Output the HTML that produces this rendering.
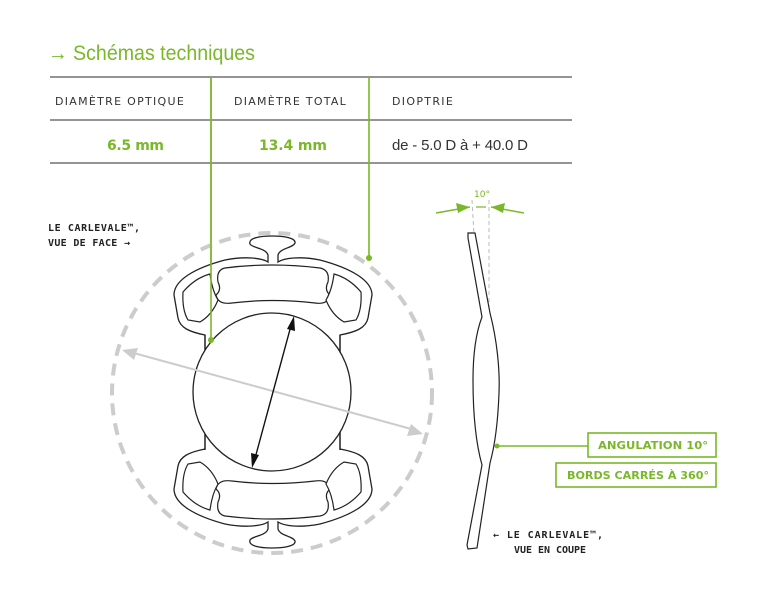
<!DOCTYPE html>
<html><head><meta charset="utf-8"><style>
body{margin:0;background:#fff;width:758px;height:597px;overflow:hidden;font-family:"Liberation Sans","DejaVu Sans",sans-serif}
</style></head><body>
<svg width="758" height="597" viewBox="0 0 758 597" xmlns="http://www.w3.org/2000/svg">
<!-- title -->
<text x="48" y="60" font-family="Liberation Sans, sans-serif" font-size="21" fill="#7ab829" textLength="207" lengthAdjust="spacingAndGlyphs">→ Schémas techniques</text>
<!-- table -->
<g stroke="#555" stroke-width="1.2">
<line x1="50" y1="77" x2="572" y2="77"/>
<line x1="50" y1="120" x2="572" y2="120"/>
<line x1="50" y1="163" x2="572" y2="163"/>
</g>
<g stroke="#7ab829" stroke-width="1.6">
<line x1="211" y1="77" x2="211" y2="340"/>
<line x1="369" y1="77" x2="369" y2="258"/>
</g>
<circle cx="211" cy="340" r="3" fill="#7ab829"/>
<circle cx="369" cy="258" r="3" fill="#7ab829"/>
<g font-family="DejaVu Sans, sans-serif" font-size="11" fill="#333" letter-spacing="1.2">
<text x="55" y="105" textLength="130">DIAMÈTRE OPTIQUE</text>
<text x="234" y="105" textLength="113">DIAMÈTRE TOTAL</text>
<text x="392" y="105" textLength="62">DIOPTRIE</text>
</g>
<g font-family="DejaVu Sans, sans-serif" font-size="14" font-weight="bold" fill="#7ab829" letter-spacing="1">
<text x="107" y="150" textLength="58">6.5 mm</text>
<text x="259" y="150" textLength="69">13.4 mm</text>
</g>
<text x="392" y="150" font-family="Liberation Sans, sans-serif" font-size="15" fill="#333" textLength="136">de - 5.0 D à + 40.0 D</text>

<!-- labels -->
<g font-family="DejaVu Sans Mono, monospace" font-size="10" font-weight="bold" fill="#222">
<text x="48" y="231" textLength="92">LE CARLEVALE™,</text>
<text x="48" y="246" textLength="82">VUE DE FACE →</text>
<text x="493" y="538" textLength="110">← LE CARLEVALE™,</text>
<text x="514" y="553" textLength="72">VUE EN COUPE</text>
</g>

<!-- dashed circle -->
<circle cx="272" cy="393" r="160" fill="none" stroke="#ccc" stroke-width="4" stroke-dasharray="12 8"/>

<!-- haptics -->
<defs>
<g id="hap">
<path d="M205 335 C190 332 180 328 178 318 L174 295 C174 280 195 268 225 260 C245 256 262 258 268 262 L268 255 C266 248 252 248 250 244 C248 238 260 236 272 236 C284 236 296 238 295 243 C293 248 280 248 278 255 L278 262 C284 258 300 256 320 260 C350 268 372 280 372 295 L368 318 C366 328 356 332 340 335 L340 352 L205 352 Z" fill="#fff" stroke="#222" stroke-width="1.3"/>
<path d="M225 268 Q272 262 320 268 Q330 270 328 282 Q324 290 330 295 Q328 305 315 303 Q272 298 232 303 Q218 305 216 295 Q222 290 218 282 Q216 270 225 268 Z" fill="#fff" stroke="#222" stroke-width="1.2"/>
<path d="M183 292 Q195 278 210 274 Q212 290 218 300 Q212 315 200 322 L188 320 Q182 310 183 292 Z" fill="#fff" stroke="#222" stroke-width="1.2"/>
<path d="M361 292 Q349 278 334 274 Q332 290 326 300 Q332 315 344 322 L356 320 Q362 310 361 292 Z" fill="#fff" stroke="#222" stroke-width="1.2"/>
</g>
</defs>
<use href="#hap"/>
<use href="#hap" transform="translate(0,784) scale(1,-1)"/>
<rect x="206" y="340" width="133" height="104" fill="#fff"/>
<line x1="205" y1="335" x2="205" y2="450" stroke="#222" stroke-width="1.3"/>
<line x1="340" y1="335" x2="340" y2="450" stroke="#222" stroke-width="1.3"/>
<circle cx="272" cy="392" r="79" fill="#fff" stroke="#222" stroke-width="1.3"/>
<line x1="211" y1="77" x2="211" y2="340" stroke="#7ab829" stroke-width="1.6"/>
<circle cx="211" cy="340" r="3" fill="#7ab829"/>

<!-- gray arrow -->
<line x1="130" y1="352" x2="415" y2="430" stroke="#ccc" stroke-width="2"/>
<polygon points="122,350 138,348 134,360" fill="#ccc"/>
<polygon points="423,434 407,436 411,424" fill="#ccc"/>
<!-- black arrow -->
<line x1="292" y1="322" x2="254" y2="462" stroke="#111" stroke-width="1.4"/>
<polygon points="294,316 295,331 287,329" fill="#111"/>
<polygon points="252,468 251,453 259,455" fill="#111"/>

<!-- cross-section -->
<line x1="472" y1="200" x2="474" y2="235" stroke="#bbb" stroke-width="1" stroke-dasharray="4 3"/>
<line x1="489" y1="200" x2="489" y2="320" stroke="#bbb" stroke-width="1" stroke-dasharray="4 3"/>
<text x="474" y="197" font-family="DejaVu Sans, sans-serif" font-size="9" fill="#7ab829">10°</text>
<line x1="436" y1="213" x2="470" y2="207" stroke="#7ab829" stroke-width="1.5"/>
<polygon points="470,207 456,203 458,213" fill="#7ab829"/>
<line x1="524" y1="213" x2="491" y2="207" stroke="#7ab829" stroke-width="1.5"/>
<polygon points="491,207 505,203 503,213" fill="#7ab829"/>
<line x1="476" y1="207" x2="486" y2="207" stroke="#7ab829" stroke-width="1.2"/>
<path d="M468 233 L475 233 L490 313 C497 340 500 370 499 393 C498 420 495 445 490 463 L477 548 L468 549 L467 545 L482 465 C475 440 473 410 473 380 C473 350 477 330 482 317 L468 238 Z" fill="#fff" stroke="#222" stroke-width="1.2"/>

<!-- callouts -->
<line x1="497" y1="446" x2="588" y2="446" stroke="#7ab829" stroke-width="1.6"/>
<circle cx="497" cy="446" r="2.5" fill="#7ab829"/>
<rect x="588" y="433" width="128" height="24" fill="#fff" stroke="#7ab829" stroke-width="1.6"/>
<rect x="556" y="463" width="160" height="24" fill="#fff" stroke="#7ab829" stroke-width="1.6"/>
<g font-family="DejaVu Sans, sans-serif" font-size="11" font-weight="bold" fill="#7ab829">
<text x="598" y="449" textLength="110" lengthAdjust="spacingAndGlyphs">ANGULATION 10°</text>
<text x="567" y="479" textLength="142" lengthAdjust="spacingAndGlyphs">BORDS CARRÉS À 360°</text>
</g>
</svg>
</body></html>
